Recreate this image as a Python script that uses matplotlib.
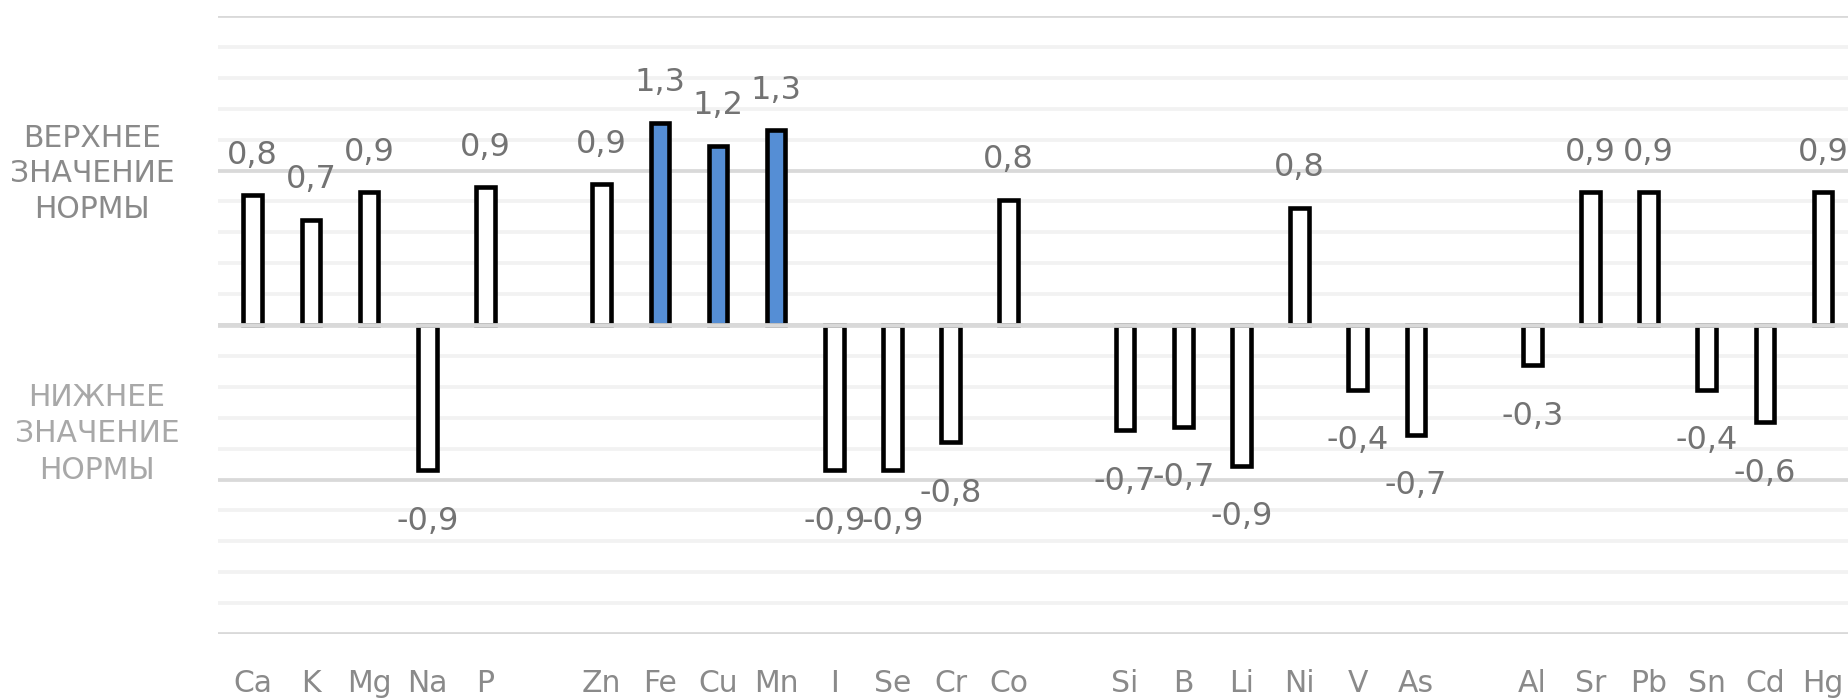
import matplotlib
matplotlib.use('Agg')
from matplotlib import pyplot as plt
import numpy as np

# elements in chart order, '' marks the gap between groups
elements = ['Ca', 'K', 'Mg', 'Na', 'P', '',
            'Zn', 'Fe', 'Cu', 'Mn', 'I', 'Se', 'Cr', 'Co', '',
            'Si', 'B', 'Li', 'Ni', 'V', 'As', '',
            'Al', 'Sr', 'Pb', 'Sn', 'Cd', 'Hg']
values = [0.84, 0.68, 0.86, -0.94, 0.89, None,
          0.91, 1.31, 1.16, 1.26, -0.94, -0.94, -0.76, 0.81, None,
          -0.68, -0.66, -0.91, 0.76, -0.42, -0.71, None,
          -0.26, 0.86, 0.86, -0.42, -0.63, 0.86]
highlight = ['Fe', 'Cu', 'Mn']

upper_note = 'ВЕРХНЕЕ\nЗНАЧЕНИЕ\nНОРМЫ'
lower_note = 'НИЖНЕЕ\nЗНАЧЕНИЕ\nНОРМЫ'

plt.rcParams['font.family'] = ['DejaVu Sans']

fig = plt.figure(figsize=(18.49, 7), dpi=100)
ax = fig.add_axes([218 / 1849, 66 / 700, 1631 / 1849, 618 / 700])

x = np.arange(len(elements))
pos = [i for i, v in enumerate(values) if v is not None]
vals = [values[i] for i in pos]
fills = ['#558ed5' if elements[i] in highlight else 'white' for i in pos]

ax.bar(pos, vals, width=0.32, color=fills, edgecolor='black',
       linewidth=3.3, zorder=2)
ax.axhline(0, color='#d9d9d9', lw=3.4, zorder=3)

for i, v in zip(pos, vals):
    txt = f'{v:.1f}'.replace('.', ',')
    ax.annotate(txt, (i, v), xytext=(0, 40 if v > 0 else -51),
                textcoords='offset pixels', ha='center', va='center',
                fontsize=23, color='#737373', zorder=4)

ax.set_xlim(-0.597, 27.447)
ax.set_ylim(-2, 2)
ax.set_yticks(np.arange(-2, 2.01, 1))
ax.set_yticks(np.arange(-2, 2.01, 0.2), minor=True)
ax.yaxis.grid(True, which='major', color='#d9d9d9', lw=2.7)
ax.yaxis.grid(True, which='minor', color='#f2f2f2', lw=2.7)
ax.set_axisbelow(True)
ax.set_yticklabels([])
ax.tick_params(axis='y', which='both', length=0)

ax.set_xticks(x)
ax.set_xticklabels(elements, fontsize=21.5, color='#8a8a8a')
ax.tick_params(axis='x', length=0, pad=25)

for s in ax.spines.values():
    s.set_visible(False)

fig.text(92 / 1849, 1 - 174 / 700, upper_note, ha='center', va='center',
         multialignment='center', fontsize=21.5, color='#8a8a8a', linespacing=1.28)
fig.text(97 / 1849, 1 - 434 / 700, lower_note, ha='center', va='center',
         multialignment='center', fontsize=21.5, color='#a8a8a8', linespacing=1.34)

fig.savefig('out.png', dpi=100)
